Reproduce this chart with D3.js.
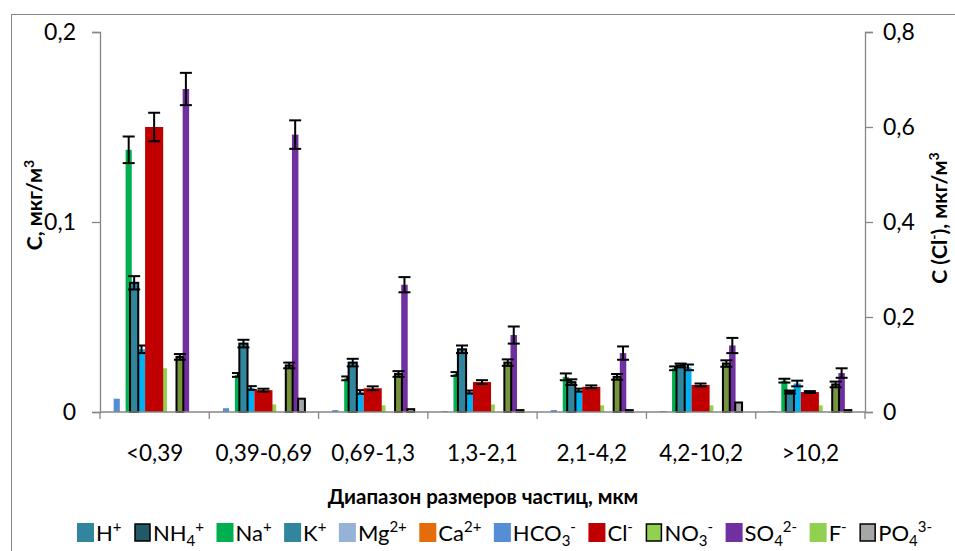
<!DOCTYPE html>
<html>
<head>
  <meta charset="UTF-8">
  <script src="https://d3js.org/d3.v7.js"></script>
  <style>
    body { margin: 0; background: #fff; }
    text { font-family: Lato, "Liberation Sans", sans-serif; fill: #000; }
  </style>
</head>
<body>
  <div id="chart"></div>
  <script>
    // data

    const categories = ["<0,39", "0,39-0,69", "0,69-1,3", "1,3-2,1", "2,1-4,2", "4,2-10,2", ">10,2"];

    const hco3 = [0.007, 0.002, 0.001, 0.0005, 0.001, 0.0005, 0.0005];
    const na   = [0.138, 0.0195, 0.0177, 0.020, 0.0185, 0.023, 0.0165];
    const naErr = [0.007, 0.001, 0.001, 0.001, 0.0018, 0.001, 0.001];
    const k    = [0.033, 0.0126, 0.0105, 0.0105, 0.0115, 0.0235, 0.015];
    const kErr = [0.002, 0.001, 0.001, 0.0008, 0.0008, 0.0015, 0.0015];
    const nh4  = [0.068, 0.036, 0.026, 0.033, 0.0157, 0.0245, 0.0105];
    const nh4Err = [0.0035, 0.002, 0.002, 0.002, 0.0015, 0.001, 0.0008];
    const f    = [0.023, 0.004, 0.0035, 0.004, 0.0035, 0.0035, 0.0035];
    const so4  = [0.17, 0.146, 0.067, 0.0405, 0.031, 0.035, 0.0205];
    const so4Err = [0.0085, 0.0075, 0.004, 0.0045, 0.0035, 0.004, 0.0025];
    const no3  = [0.029, 0.0245, 0.020, 0.026, 0.0185, 0.0255, 0.0145];
    const no3Err = [0.0015, 0.0015, 0.0015, 0.0017, 0.0015, 0.0017, 0.0015];
    const po4  = [0, 0.007, 0.0015, 0.001, 0.001, 0.005, 0.001];
    // Cl- is on the secondary axis
    const cl   = [0.60, 0.046, 0.05, 0.063, 0.053, 0.057, 0.042];
    const clErr = [0.03, 0.003, 0.004, 0.004, 0.003, 0.003, 0.002];

    const leftTicks = [0, 0.1, 0.2];
    const rightTicks = [0, 0.2, 0.4, 0.6, 0.8];

    const legendItems = [
      { b: "H", sup: "+" }, { b: "NH", sub: "4", sup: "+" }, { b: "Na", sup: "+" },
      { b: "K", sup: "+" }, { b: "Mg", sup: "2+" }, { b: "Ca", sup: "2+" },
      { b: "HCO", sub: "3", sup: "-" }, { b: "Cl", sup: "-" }, { b: "NO", sub: "3", sup: "-" },
      { b: "SO", sub: "4", sup: "2-" }, { b: "F", sup: "-" }, { b: "PO", sub: "4", sup: "3-" }
    ];
    const legendColors = ["#31859c", "#215968", "#00b050", "#31859c", "#95b3d7", "#e46c0a",
                          "#558ed5", "#c00000", "#92d050", "#7030a0", "#92d050", "#a6a6a6"];
    const legendOutlined = [false, true, false, false, false, false, false, false, true, false, false, true];

    // series drawing setup (slot = position inside the group, in 12 slots)
    const series = [
      { vals: hco3, slot: 0,    w: 0.9,  fill: "#558ed5" },
      { vals: na,   err: naErr, slot: 1.75, w: 0.9, fill: "#00b050" },
      { vals: k,    err: kErr,  slot: 3.55, w: 1.05, fill: "#00b0f0" },
      { vals: nh4,  err: nh4Err, slot: 2.4, w: 1.2, fill: "#31859c", stroke: true },
      { vals: f,    slot: 7.2,  w: 0.6,  fill: "#92d050" },
      { vals: so4,  err: so4Err, slot: 10.1, w: 0.95, fill: "#7030a0" },
      { vals: no3,  err: no3Err, slot: 9.2, w: 1.0, fill: "#77933c", stroke: true },
      { vals: po4,  slot: 11.0, w: 1.0, fill: "#a6a6a6", stroke: true },
      { vals: cl,   err: clErr, slot: 4.6, w: 2.65, fill: "#c00000", right: true }
    ];

    // set up

    const W = 955, H = 551;
    const plot = { left: 100, right: 865, top: 32, bottom: 412 };

    const svg = d3.select('#chart')
      .append('svg')
        .attr('width', W)
        .attr('height', H);

    svg.append('rect')
      .attr('x', 11.5).attr('y', 14.5)
      .attr('width', 980).attr('height', 600)
      .attr('fill', 'none').attr('stroke', '#868686');

    const locale = d3.formatLocale({ decimal: ",", thousands: " ", grouping: [3], currency: ["", ""] });
    const fmt = v => v === 0 ? "0" : locale.format(".1f")(v);

    // scales

    const x = d3.scaleBand()
      .domain(categories)
      .range([plot.left, plot.right]);

    const bw = x.bandwidth();
    const slotX = d3.scaleLinear().domain([0, 12]).range([bw * 0.125, bw * 0.875]);

    const y = d3.scaleLinear().domain([0, 0.2]).range([plot.bottom, plot.top]);
    const y2 = d3.scaleLinear().domain([0, 0.8]).range([plot.bottom, plot.top]);

    // axes

    const axisColor = "#868686";

    const gl = svg.append('g')
      .attr('transform', `translate(${plot.left},0)`)
      .call(d3.axisLeft(y).tickValues(leftTicks).tickFormat(fmt).tickSize(8).tickPadding(16));
    const gr = svg.append('g')
      .attr('transform', `translate(${plot.right},0)`)
      .call(d3.axisRight(y2).tickValues(rightTicks).tickFormat(fmt).tickSize(8).tickPadding(10));
    [gl, gr].forEach(g => {
      g.select('.domain').attr('stroke', axisColor).attr('stroke-width', 1.3);
      g.selectAll('.tick line').attr('stroke', axisColor).attr('stroke-width', 1.3);
      g.selectAll('.tick text').attr('font-size', 23).attr('font-family', 'Lato');
    });

    // bars

    categories.forEach((c, i) => {
      series.forEach(s => {
        const v = s.vals[i];
        const sc = s.right ? y2 : y;
        const x0 = x(c) + slotX(s.slot);
        const w = slotX(s.slot + s.w) - slotX(s.slot);
        svg.append('rect')
          .attr('x', x0)
          .attr('y', sc(v))
          .attr('width', w)
          .attr('height', Math.max(0, sc(0) - sc(v)))
          .attr('fill', s.fill)
          .attr('stroke', s.stroke ? '#000' : 'none')
          .attr('stroke-width', s.stroke ? 2 : 0);
        if (s.err) {
          const cx = x0 + w / 2;
          const e = s.err[i];
          const g = svg.append('g').attr('stroke', '#000').attr('stroke-width', 2);
          g.append('line').attr('x1', cx).attr('x2', cx).attr('y1', sc(v + e)).attr('y2', sc(v - e));
          [v + e, v - e].forEach(t => {
            g.append('line').attr('x1', cx - 6).attr('x2', cx + 6).attr('y1', sc(t)).attr('y2', sc(t));
          });
        }
      });
    });

    // x axis on top of bars
    const gx = svg.append('g')
      .attr('transform', `translate(0,${plot.bottom})`);
    gx.append('line')
      .attr('x1', plot.left).attr('x2', plot.right)
      .attr('stroke', axisColor).attr('stroke-width', 1.3);
    gx.selectAll('.tk')
      .data(categories.concat([null]))
      .join('line')
        .attr('x1', (d, i) => plot.left + i * x.step())
        .attr('x2', (d, i) => plot.left + i * x.step())
        .attr('y1', 0).attr('y2', 7)
        .attr('stroke', axisColor).attr('stroke-width', 1.3);
    gx.selectAll('.lbl')
      .data(categories)
      .join('text')
        .attr('x', d => x(d) + bw / 2)
        .attr('y', 49)
        .attr('text-anchor', 'middle')
        .attr('font-size', 22.5)
        .text(d => d);

    // titles

    svg.append('text')
      .attr('x', 483).attr('y', 504)
      .attr('text-anchor', 'middle')
      .attr('font-size', 20.5).attr('font-weight', 'bold')
      .text('Диапазон размеров частиц, мкм');

    const tl = svg.append('text')
      .attr('transform', 'translate(42,205) rotate(-90)')
      .attr('text-anchor', 'middle')
      .attr('font-size', 21).attr('font-weight', 'bold');
    tl.append('tspan').text('С, мкг/м');
    tl.append('tspan').attr('dy', -8).attr('font-size', 14).text('3');

    const tr = svg.append('text')
      .attr('transform', 'translate(947,218) rotate(-90)')
      .attr('text-anchor', 'middle')
      .attr('font-size', 21).attr('font-weight', 'bold');
    tr.append('tspan').text('С (Cl');
    tr.append('tspan').attr('dy', -8).attr('font-size', 14).text('-');
    tr.append('tspan').attr('dy', 8).text('), мкг/м');
    tr.append('tspan').attr('dy', -8).attr('font-size', 14).text('3');

    // legend

    let lx = 77;
    const ly = 523;
    legendItems.forEach((it, i) => {
      const oc = legendOutlined[i];
      svg.append('rect')
        .attr('x', lx + (oc ? 1 : 0)).attr('y', ly + (oc ? 1 : 0))
        .attr('width', oc ? 15 : 17).attr('height', oc ? 17 : 19)
        .attr('fill', legendColors[i])
        .attr('stroke', oc ? '#000' : 'none')
        .attr('stroke-width', 1.5);
      const t = svg.append('text')
        .attr('x', lx + 19).attr('y', ly + 18)
        .attr('font-size', 22);
      t.append('tspan').text(it.b);
      let dy = 0;
      if (it.sub) { t.append('tspan').attr('dy', 5).attr('font-size', 15).text(it.sub); dy = -5; }
      t.append('tspan').attr('dy', dy - 9).attr('font-size', 15).text(it.sup);
      lx += 19 + t.node().getComputedTextLength() + 12.5;
    });
  </script>
</body>
</html>
